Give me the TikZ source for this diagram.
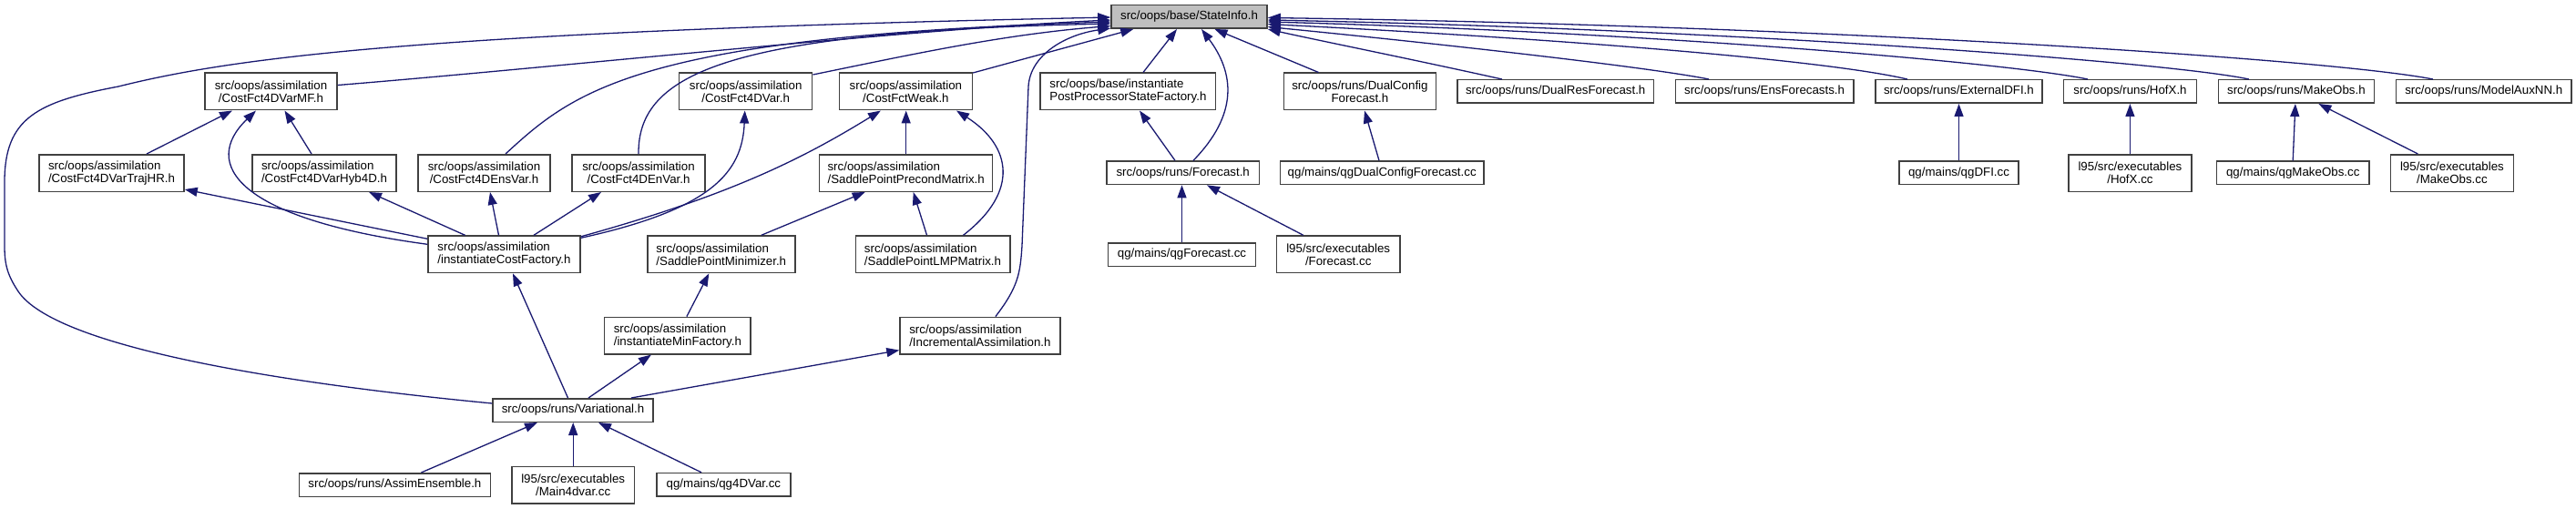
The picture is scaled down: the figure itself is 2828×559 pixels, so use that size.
\documentclass[tikz,border=0pt]{standalone}
\usepackage{fontspec}
\setmainfont{Liberation Sans}
\usetikzlibrary{arrows.meta,calc}
\definecolor{navy}{HTML}{191970}
\definecolor{boxline}{HTML}{404040}
\definecolor{sifill}{HTML}{BFBFBF}
\newcommand{\twol}[2]{{\setbox0=\hbox{#1}\setbox2=\hbox{#2}%
 \dimen0=\wd0 \ifdim\wd2>\dimen0 \dimen0=\wd2 \fi
 \vbox{\hbox to\dimen0{\box0\hfil}\hbox to\dimen0{\hfil\box2\hfil}}}}
\tikzset{
 nbox/.style={draw=boxline, line width=1.5pt, fill=white, inner sep=0pt,
   minimum height=25.5, font=\fontsize{13.3}{14}\selectfont},
 tbox/.style={nbox, minimum height=40.5},
 dep/.style={draw=navy, line width=1.3pt, -{Triangle[length=14pt,width=10pt]}}
}
\begin{document}
\begin{tikzpicture}[x=1pt,y=-1pt]
\useasboundingbox (0,0) rectangle (2828,559);
% nodes
\node[nbox, fill=sifill, minimum width=171] (si) at (1305.5,18.5) {src/oops/base/StateInfo.h};
\node[tbox, minimum width=145] (mf) at (297.5,100.5) {\twol{src/oops/assimilation}{/CostFct4DVarMF.h}};
\node[tbox, minimum width=159] (trajhr) at (122.5,190) {\twol{src/oops/assimilation}{/CostFct4DVarTrajHR.h}};
\node[tbox, minimum width=158] (hyb) at (356,190) {\twol{src/oops/assimilation}{/CostFct4DVarHyb4D.h}};
\node[tbox, minimum width=145] (ensvar) at (531.5,190) {\twol{src/oops/assimilation}{/CostFct4DEnsVar.h}};
\node[tbox, minimum width=146] (envar) at (701,190) {\twol{src/oops/assimilation}{/CostFct4DEnVar.h}};
\node[tbox, minimum width=146] (cf4d) at (818.7,100.5) {\twol{src/oops/assimilation}{/CostFct4DVar.h}};
\node[tbox, minimum width=146] (weak) at (994.4,100.5) {\twol{src/oops/assimilation}{/CostFctWeak.h}};
\node[tbox, minimum width=190] (precond) at (994.7,190) {\twol{src/oops/assimilation}{/SaddlePointPrecondMatrix.h}};
\node[tbox, minimum width=167] (icf) at (553.5,279.3) {\twol{src/oops/assimilation}{/instantiateCostFactory.h}};
\node[tbox, minimum width=162] (spmin) at (791.8,279.3) {\twol{src/oops/assimilation}{/SaddlePointMinimizer.h}};
\node[tbox, minimum width=169.5] (lmp) at (1024,279.3) {\twol{src/oops/assimilation}{/SaddlePointLMPMatrix.h}};
\node[tbox, minimum width=160.6] (imf) at (743.9,368.6) {\twol{src/oops/assimilation}{/instantiateMinFactory.h}};
\node[tbox, minimum width=175.7] (inc) at (1075.9,368.6) {\twol{src/oops/assimilation}{/IncrementalAssimilation.h}};
\node[nbox, minimum width=176] (var) at (629,450.5) {src/oops/runs/Variational.h};
\node[nbox, minimum width=210] (assim) at (433.4,532.5) {src/oops/runs/AssimEnsemble.h};
\node[tbox, minimum width=134.7] (main4) at (629.2,532.7) {\twol{l95/src/executables}{/Main4dvar.cc}};
\node[nbox, minimum width=147] (qg4) at (794.4,532.3) {qg/mains/qg4DVar.cc};
\node[tbox, minimum width=192.4] (pp) at (1238.4,100.5) {\twol{src/oops/base/instantiate}{PostProcessorStateFactory.h}};
\node[tbox, minimum width=167.2] (dcf) at (1492.9,100.5) {\twol{src/oops/runs/DualConfig}{Forecast.h}};
\node[nbox, minimum width=215.4] (drf) at (1707.7,100.5) {src/oops/runs/DualResForecast.h};
\node[nbox, minimum width=167.3] (fc) at (1298.7,189.8) {src/oops/runs/Forecast.h};
\node[nbox, minimum width=223.8] (qgdcf) at (1517.2,189.8) {qg/mains/qgDualConfigForecast.cc};
\node[nbox, minimum width=161.7] (qgfc) at (1297.5,279.5) {qg/mains/qgForecast.cc};
\node[tbox, minimum width=135.4] (l95fc) at (1469.2,279.3) {\twol{l95/src/executables}{/Forecast.cc}};
\node[nbox, minimum width=195.4] (ens) at (1937.1,100.5) {src/oops/runs/EnsForecasts.h};
\node[nbox, minimum width=183.1] (ext) at (2150.4,100.5) {src/oops/runs/ExternalDFI.h};
\node[nbox, minimum width=131] (qgdfi) at (2150.5,189.8) {qg/mains/qgDFI.cc};
\node[nbox, minimum width=145.9] (hofx) at (2338.5,100.5) {src/oops/runs/HofX.h};
\node[tbox, minimum width=135.2] (hofxcc) at (2338.4,190) {\twol{l95/src/executables}{/HofX.cc}};
\node[nbox, minimum width=171] (mo) at (2520.9,100.5) {src/oops/runs/MakeObs.h};
\node[nbox, minimum width=167.3] (qgmo) at (2517.2,189.8) {qg/mains/qgMakeObs.cc};
\node[tbox, minimum width=135] (mocc) at (2691.9,190) {\twol{l95/src/executables}{/MakeObs.cc}};
\node[nbox, minimum width=192.6] (aux) at (2726.7,100.5) {src/oops/runs/ModelAuxNN.h};
% edges
\draw[dep] ($(var.west)+(0,-7.5)$) .. controls (300,420) and (60,380) .. (20,320) .. controls (8,302) and (5,290) .. (5,270) -- (5,200) .. controls (5,130) and (40,112) .. (130,95) .. controls (250,65) and (450,35) .. ($(si.west)+(0,0.5)$);
\draw[dep] ($(mf.east)+(0,-7)$) .. controls (600,75) and (1000,32) .. ($(si.west)+(0,3.5)$);
\draw[dep] ($(trajhr.north)+(38.5,0)$) -- ($(mf.south)+(-42.5,0)$);
\draw[dep] ($(hyb.north)+(-14,0)$) -- ($(mf.south)+(15,0)$);
\draw[dep] ($(icf.west)+(0,-11)$) .. controls (260,240) and (220,180) .. ($(mf.south)+(-16.5,0)$);
\draw[dep] ($(icf.west)+(0,-17)$) -- ($(trajhr.south east)+(0,-3)$);
\draw[dep] ($(icf.north)+(-43,0)$) -- ($(hyb.south)+(49,0)$);
\draw[dep] ($(icf.north)+(-6,0)$) -- ($(ensvar.south)+(6.5,0)$);
\draw[dep] ($(icf.north)+(32.5,0)$) -- ($(envar.south)+(-41,0)$);
\draw[dep] ($(icf.north east)+(0,3)$) .. controls (780,230) and (815,190) .. ($(cf4d.south)+(-1,0)$);
\draw[dep] ($(icf.north east)+(0,1.5)$) .. controls (800,215) and (880,175) .. ($(weak.south)+(-27.5,0)$);
\draw[dep] ($(ensvar.north)+(23.5,0)$) .. controls (630,100) and (700,40) .. ($(si.west)+(0,5.5)$);
\draw[dep] (envar.north) .. controls (700,80) and (800,35) .. ($(si.west)+(0,7.5)$);
\draw[dep] ($(cf4d.north east)+(0,2.5)$) .. controls (1000,60) and (1100,38) .. ($(si.west)+(0,10)$);
\draw[dep] ($(weak.north east)+(0,0.5)$) -- ($(si.south west)+(25,0)$);
\draw[dep] (precond.north) -- (precond.north |- weak.south);
\draw[dep] ($(lmp.north)+(33.5,0)$) .. controls (1120,210) and (1110,160) .. ($(weak.south)+(55.6,0)$);
\draw[dep] ($(spmin.north)+(44,0)$) -- ($(precond.south)+(-45,0)$);
\draw[dep] ($(lmp.north)+(-6.5,0)$) -- ($(precond.south)+(8,0)$);
\draw[dep] ($(imf.north)+(10,0)$) -- ($(spmin.south)+(-13.5,0)$);
\draw[dep] ($(var.north)+(-5.5,0)$) -- ($(icf.south)+(9.5,0)$);
\draw[dep] ($(var.north)+(17,0)$) -- ($(imf.south)+(-29,0)$);
\draw[dep] ($(var.north)+(64,0)$) -- ($(inc.west)+(0,16)$);
\draw[dep] ($(inc.north)+(17,0)$) .. controls (1118,315) and (1120,300) .. (1122,270) -- (1129,95) .. controls (1131,60) and (1170,38) .. ($(si.west)+(0,12.5)$);
\draw[dep] ($(assim.north)+(29,0)$) -- ($(var.south)+(-39,0)$);
\draw[dep] (main4.north) -- (main4.north |- var.south);
\draw[dep] ($(qg4.north)+(-24.4,0)$) -- ($(var.south)+(28,0)$);
\draw[dep] ($(pp.north)+(16.6,0)$) -- ($(si.south)+(-13.5,0)$);
\draw[dep] ($(fc.north)+(-8.7,0)$) -- ($(pp.south)+(12.6,0)$);
\draw[dep] ($(fc.north)+(11.3,0)$) .. controls (1360,125) and (1355,80) .. ($(si.south)+(13.5,0)$);
\draw[dep] (qgfc.north) -- (qgfc.north |- fc.south);
\draw[dep] ($(l95fc.north)+(-38.4,0)$) -- ($(fc.south)+(26.3,0)$);
\draw[dep] ($(dcf.north)+(-45.4,0)$) -- ($(si.south)+(28,0)$);
\draw[dep] ($(qgdcf.north)+(-3.2,0)$) -- ($(dcf.south)+(5.1,0)$);
\draw[dep] ($(drf.north)+(-58.7,0)$) .. controls (1550,65) and (1450,45) .. (si.south east);
\draw[dep] ($(ens.north)+(-61,0)$) .. controls (1800,72) and (1550,45) .. ($(si.east)+(0,11)$);
\draw[dep] ($(ext.north)+(-56.4,0)$) .. controls (2000,65) and (1700,42) .. ($(si.east)+(0,8)$);
\draw[dep] (qgdfi.north) -- (qgdfi.north |- ext.south);
\draw[dep] ($(hofx.north)+(-46.5,0)$) .. controls (2200,68) and (1800,35) .. ($(si.east)+(0,5.5)$);
\draw[dep] (hofxcc.north) -- (hofxcc.north |- hofx.south);
\draw[dep] ($(mo.north)+(-52,0)$) .. controls (2380,68) and (1900,32) .. ($(si.east)+(0,3.5)$);
\draw[dep] (qgmo.north) -- ($(mo.south)+(-1,0)$);
\draw[dep] ($(mocc.north)+(-37.5,0)$) -- ($(mo.south)+(24.5,0)$);
\draw[dep] ($(aux.north)+(-55.7,0)$) .. controls (2560,65) and (2000,28) .. ($(si.east)+(0,1)$);
\end{tikzpicture}
\end{document}
